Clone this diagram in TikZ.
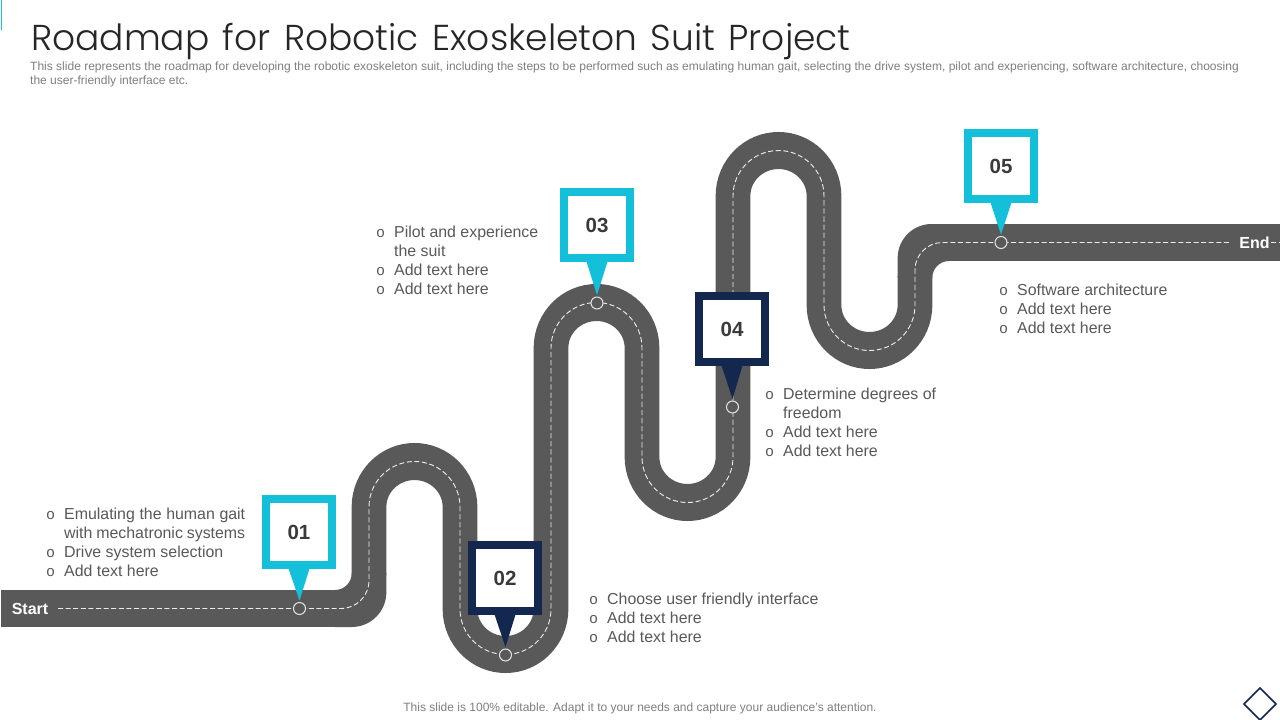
\documentclass[tikz,border=0pt]{standalone}
\usepackage{fontspec}
\setmainfont{Liberation Sans}
\newfontfamily\titlefont{Poppins Light}
\newfontfamily\bulfont{Liberation Mono}
\usetikzlibrary{calc}
\definecolor{roadgrey}{HTML}{595959}
\definecolor{tealc}{HTML}{13BFD9}
\definecolor{navyc}{HTML}{14284F}
\definecolor{bodyc}{HTML}{595959}
\definecolor{subc}{HTML}{7F7F7F}
\definecolor{numc}{HTML}{3A3A3A}
\tikzset{
  x=1pt,y=-1pt,
  road/.style={draw=roadgrey,line width=34.7pt,line cap=butt},
  centre/.style={draw=white!92!black,line width=0.9pt,dash pattern=on 5pt off 2.6pt},
  mark dot/.style={circle,draw=white!90!black,fill=roadgrey,line width=1pt,minimum size=12pt,inner sep=0pt},
  tag/.style={rectangle,fill=white,line width=8pt,minimum size=66pt,inner sep=0pt,font=\bfseries\fontsize{20.5}{24}\selectfont,text=numc},
  lab/.style={anchor=base west,inner sep=0pt,text=bodyc,font=\fontsize{15.9}{19}\selectfont},
  dotlab/.style={anchor=base west,inner sep=0pt,text=bodyc,font=\bulfont\fontsize{15}{19}\selectfont},
  endlab/.style={inner sep=0pt,text=white,font=\bfseries\fontsize{16}{19}\selectfont}
}
\newcommand{\fitw}[2]{\makebox[#1pt][s]{#2}}
\newcommand{\numtxt}[1]{\raisebox{-1.5pt}{#1}}
\begin{document}
\begin{tikzpicture}
\path[use as bounding box,fill=white] (0,0) rectangle (1280,720);
\draw[tealc,line width=1.2pt] (1.5,0) -- (1.5,30);
% road
\begin{scope}[transform canvas={yscale=1.0663},y={(0,-0.93782pt)}]
  \path[road] (1,608.5) -- (337,608.5);
  \path[road] (369,575) -- (369,507) arc (180:360:45.5) -- (460,609) arc (180:0:45.5)
     -- (551,348) arc (180:360:45.5) -- (642,457) arc (180:0:45.5)
     -- (733,196) arc (180:360:45.5) -- (824,305) arc (180:0:45.5) -- (915,276);
  \path[road] (947,242.5) -- (1280,242.5);
\end{scope}
\fill[roadgrey] (335,590) arc (90:0:16.65) -- (386.35,573.35) -- (386.35,592.3) arc (0:90:34.7) -- (335,627) -- cycle;
\fill[roadgrey] (897.65,258) arc (180:270:34) -- (949,224) -- (949,261) arc (270:180:16.65) -- (932.35,277.65) -- (897.65,277.65) -- cycle;
\begin{scope}[transform canvas={yscale=1.0663},y={(0,-0.93782pt)}]
  \path[centre] (58,608.5) -- (341,608.5) arc (90:0:28) -- (369,507) arc (180:360:45.5) -- (460,609) arc (180:0:45.5)
     -- (551,348) arc (180:360:45.5) -- (642,457) arc (180:0:45.5)
     -- (733,196) arc (180:360:45.5) -- (824,305) arc (180:0:45.5) -- (915,270) arc (180:270:27.5) -- (1230,242.5);
  \path[centre] (1271,242.5) -- (1280,242.5);
\end{scope}
% marks
\node[mark dot] (d1) at (299.5,608.5) {};
\node[mark dot] (d2) at (505.5,655) {};
\node[mark dot] (d3) at (597,303) {};
\node[mark dot] (d4) at (732.5,407) {};
\node[mark dot] (d5) at (1001,242.5) {};
% tags
\node[tag,draw=tealc] (b1) at (299,532) {\numtxt{01}};
\node[tag,draw=navyc] (b2) at (505,578) {\numtxt{02}};
\node[tag,draw=tealc] (b3) at (597,225) {\numtxt{03}};
\node[tag,draw=navyc] (b4) at (732,329) {\numtxt{04}};
\node[tag,draw=tealc] (b5) at (1001,166) {\numtxt{05}};
\foreach \b/\d/\c in {b1/d1/tealc,b2/d2/navyc,b3/d3/tealc,b4/d4/navyc,b5/d5/tealc}{
  \fill[\c] ($(\b.south)+(-11,-2)$) -- ($(\b.south)+(11,-2)$) -- ($(\d.north)+(0,-1.5)$) -- cycle;
}
\node[endlab] (start) at (30,609) {Start};
\node[endlab] (end) at (1254.5,243) {End};
% title
\node[anchor=base west,inner sep=0pt,text=black!85,font=\titlefont\fontsize{36}{40}\selectfont] (title) at (31,50) {\spaceskip=13.4pt\raisebox{0pt}[\height][0pt]{Roadmap for Robotic Exoskeleton Suit Project}};
\node[anchor=base west,inner sep=0pt,text=subc,font=\fontsize{12.02}{14}\selectfont] (sub1) at (30,70) {This slide represents the roadmap for developing the robotic exoskeleton suit, including the steps to be performed such as emulating human gait, selecting the drive system, pilot and experiencing, software architecture, choosing};
\node[anchor=base west,inner sep=0pt,text=subc,font=\fontsize{12}{14}\selectfont] (sub2) at (30,84) {the user-friendly interface etc.};
\node[anchor=base,inner sep=0pt,text=subc,font=\fontsize{12}{14}\selectfont] (foot) at (640,711) {This slide is 100\% editable. Adapt it to your needs and capture your audience's attention.};
% lists
\node[dotlab] (o1a) at (46,519) {o};
\node[lab] (t1a) at (64,519) {\fitw{181}{Emulating the human gait}};
\node[lab] (t1b) at (64,538) {\fitw{181}{with mechatronic systems}};
\node[dotlab] (o1c) at (46,557) {o};
\node[lab] (t1c) at (64,557) {Drive system selection};
\node[dotlab] (o1d) at (46,576) {o};
\node[lab] (t1d) at (64,576) {Add text here};
\node[dotlab] (o2a) at (589,604) {o};
\node[lab] (t2a) at (607,604) {Choose user friendly interface};
\node[dotlab] (o2b) at (589,623) {o};
\node[lab] (t2b) at (607,623) {Add text here};
\node[dotlab] (o2c) at (589,642) {o};
\node[lab] (t2c) at (607,642) {Add text here};
\node[dotlab] (o3a) at (376,237) {o};
\node[lab] (t3a) at (394,237) {Pilot and experience};
\node[lab] (t3b) at (394,256) {the suit};
\node[dotlab] (o3c) at (376,275) {o};
\node[lab] (t3c) at (394,275) {Add text here};
\node[dotlab] (o3d) at (376,294) {o};
\node[lab] (t3d) at (394,294) {Add text here};
\node[dotlab] (o4a) at (765,399) {o};
\node[lab] (t4a) at (783,399) {Determine degrees of};
\node[lab] (t4b) at (783,418) {freedom};
\node[dotlab] (o4c) at (765,437) {o};
\node[lab] (t4c) at (783,437) {Add text here};
\node[dotlab] (o4d) at (765,456) {o};
\node[lab] (t4d) at (783,456) {Add text here};
\node[dotlab] (o5a) at (999,295) {o};
\node[lab] (t5a) at (1017,295) {Software architecture};
\node[dotlab] (o5b) at (999,314) {o};
\node[lab] (t5b) at (1017,314) {Add text here};
\node[dotlab] (o5c) at (999,333) {o};
\node[lab] (t5c) at (1017,333) {Add text here};
% corner mark
\draw[navyc,line width=1.5pt] (1260,688) -- (1276,704) -- (1260,720) -- (1244,704) -- cycle;
\end{tikzpicture}
\end{document}
